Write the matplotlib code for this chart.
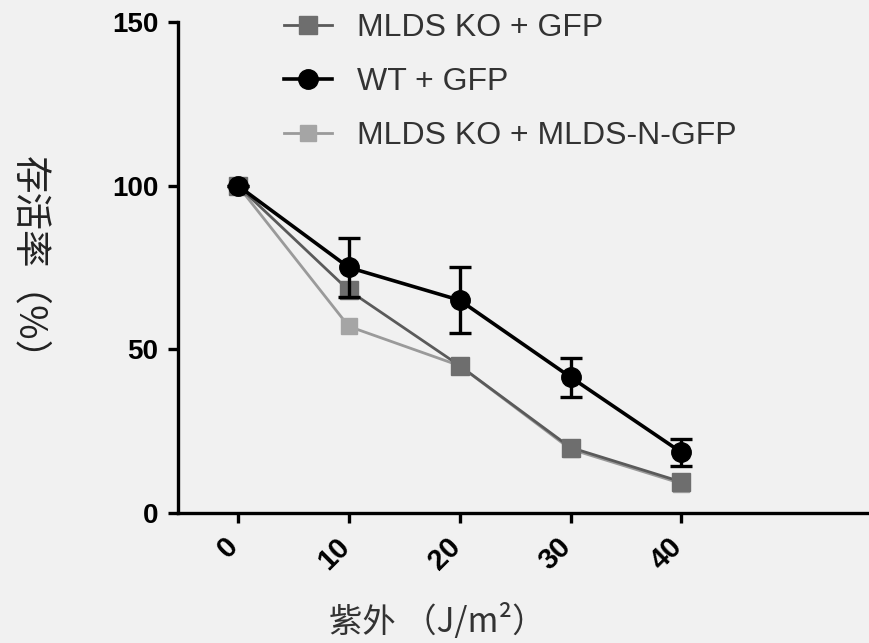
import matplotlib.pyplot as plt
import matplotlib.transforms as mtransforms

# doses UV (J/m2)
doses = [0, 10, 20, 30, 40]
# survie moyenne par groupe
ko_gfp = [100, 68, 45, 20, 9.5]
wt_gfp = [100, 75, 65, 41.5, 18.5]
wt_err = [0, 9, 10, 6, 4]
ko_n_gfp = [100, 57, 45, 19.5, 9]

labels = ["MLDS KO + GFP", "WT + GFP", "MLDS KO + MLDS-N-GFP"]
y_ticks = [0, 50, 100, 150]

plt.rcParams['font.family'] = ['Liberation Sans', 'Noto Sans CJK SC', 'DejaVu Sans']
bg = '#f1f1f1'

fig = plt.figure(figsize=(8.7, 6.43), dpi=100, facecolor=bg)
ax = fig.add_axes([0.2046, 0.2022, 0.7954, 0.7636], facecolor=bg)

h1, = ax.plot(doses, ko_gfp, color='#5a5a5a', linewidth=2, marker='s', markersize=13,
              markerfacecolor='#6e6e6e', markeredgecolor='#6e6e6e', zorder=3)
# barres d'erreur séparées pour garder une légende simple
ax.errorbar(doses, wt_gfp, yerr=wt_err, fmt='none', ecolor='black', elinewidth=2.4,
            capsize=8, capthick=2.4, zorder=4)
h2, = ax.plot(doses, wt_gfp, color='black', linewidth=2.6, marker='o', markersize=14, zorder=5)
h3, = ax.plot(doses, ko_n_gfp, color='#9a9a9a', linewidth=2, marker='s', markersize=11,
              markerfacecolor='#a5a5a5', markeredgecolor='#a5a5a5', zorder=2)

ax.set_xlim(-5.4, 57)
ax.set_ylim(0, 150)
ax.set_xticks(doses)
ax.set_yticks(y_ticks)

for s in ['top', 'right']:
    ax.spines[s].set_visible(False)
for s in ['left', 'bottom']:
    ax.spines[s].set_linewidth(2.4)

ax.tick_params(axis='both', direction='out', length=7, width=2.4, labelsize=20, pad=7)
ax.tick_params(axis='x', labelsize=21)
for lab in ax.get_yticklabels():
    lab.set_fontweight('bold')
offset = mtransforms.ScaledTranslation(6 / 100, 0, fig.dpi_scale_trans)
for lab in ax.get_xticklabels():
    lab.set_fontweight('bold')
    lab.set_rotation(45)
    lab.set_ha('right')
    lab.set_transform(lab.get_transform() + offset)

ax.set_xlabel("紫外 （J/m²）", fontsize=24, family=['Noto Sans CJK SC', 'DejaVu Sans'], color='#333333')
ax.xaxis.set_label_coords(0.375, -0.185)
ax.set_ylabel("存活率（%）", fontsize=27, family=['Noto Sans CJK SC', 'DejaVu Sans'],
              rotation=270, va='center', color='#222222')
ax.yaxis.set_label_coords(-0.215, 0.50)

leg = ax.legend([h1, h2, h3], labels, loc='upper left', bbox_to_anchor=(0.13, 1.05),
                frameon=False, fontsize=23, handlelength=1.5, handletextpad=0.8,
                labelspacing=0.75, borderpad=0)
for t in leg.get_texts():
    t.set_color('#333333')

fig.savefig('out.png', dpi=100, facecolor=bg)
